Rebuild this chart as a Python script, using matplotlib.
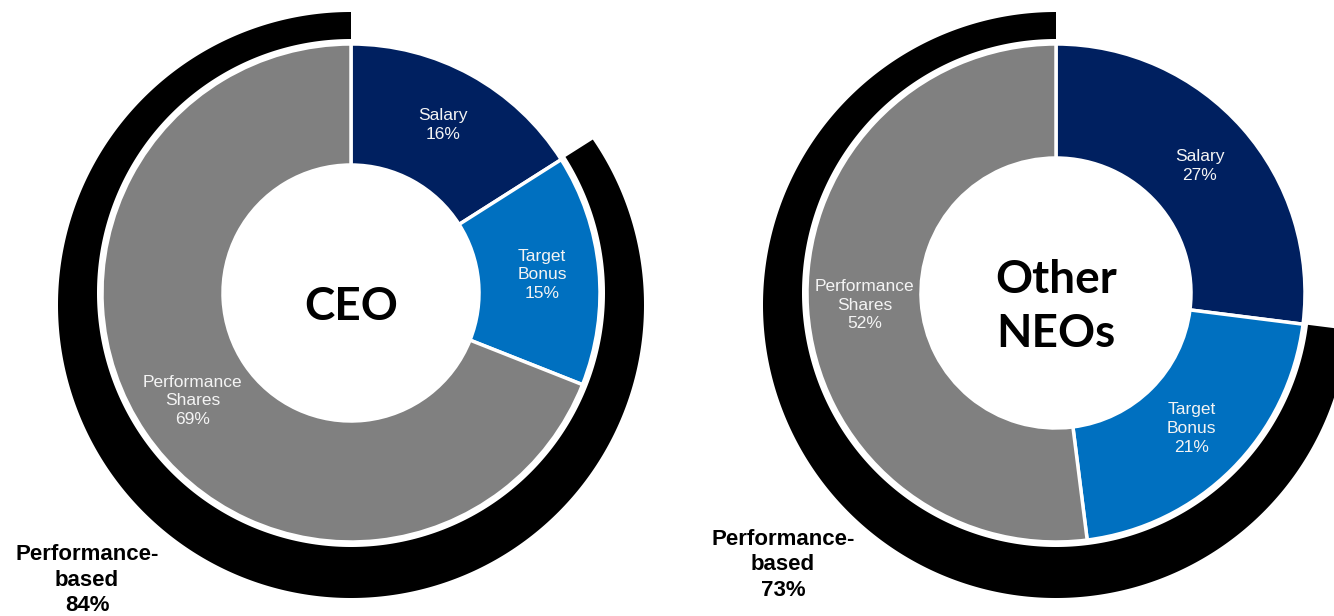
import numpy as np
import matplotlib.pyplot as plt
from matplotlib.patches import Polygon

# compensation mix (percent of target pay)
components = ['Salary', 'Target\nBonus', 'Performance\nShares']
ceo_mix = [16, 15, 69]
neo_mix = [27, 21, 52]
ceo_perf_based = 84
neo_perf_based = 73
colors = ['#002060', '#0070C0', '#808080']

W, H = 1334, 616
fig = plt.figure(figsize=(W / 100, H / 100), dpi=100)
ax = fig.add_axes([0, 0, 1, 1])


def ring_arc(ax, center, r_in, frac, drop, r_out):
    # black arc for the performance-based share, drawn from 12 o'clock
    # counter-clockwise; its outer edge is a circle shifted downwards
    cx, cy = center
    theta = np.radians(np.linspace(90, 90 + frac * 360, 400))
    u = np.stack([np.cos(theta), np.sin(theta)], axis=1)
    d = np.array([0.0, -drop])
    ud = u @ d
    t = ud + np.sqrt(ud ** 2 - d @ d + r_out ** 2)
    outer = np.column_stack([cx + t * u[:, 0], cy + t * u[:, 1]])
    inner = np.column_stack([cx + r_in * u[::-1, 0], cy + r_in * u[::-1, 1]])
    ax.add_patch(Polygon(np.vstack([outer, inner]), closed=True,
                         facecolor='black', edgecolor='none'))


def donut(ax, values, perf, center, r_hole, title, note_xy):
    R = 249
    ring_arc(ax, center, R + 5, perf / 100, 12, 293)
    wedges, texts = ax.pie(values, colors=colors, radius=R, center=center,
                           startangle=90, counterclock=False, frame=True,
                           labels=[f'{c}\n{v}%' for c, v in zip(components, values)],
                           labeldistance=0.77,
                           wedgeprops=dict(width=R - r_hole, edgecolor='white', linewidth=2.5),
                           textprops=dict(color='#f4f4f4', fontsize=12.5,
                                          family='Liberation Sans'))
    for t in texts:
        t.set_horizontalalignment('center')
        t.set_verticalalignment('center')
        t.set_linespacing(1.3)
    ax.text(center[0], center[1] - 14, title, ha='center', va='center',
            fontsize=33, fontweight='bold', family='Lato', linespacing=1.35)
    ax.text(note_xy[0], note_xy[1], f'Performance-\nbased\n{perf}%', ha='center', va='center',
            fontsize=16, fontweight='bold', family='Liberation Sans', linespacing=1.3)


donut(ax, ceo_mix, ceo_perf_based, (351, 323), 128, 'CEO', (87, 36))
donut(ax, neo_mix, neo_perf_based, (1056, 323), 135, 'Other\nNEOs', (783, 51))

ax.set_xlim(0, W)
ax.set_ylim(0, H)
ax.set_aspect('equal')
ax.axis('off')

fig.savefig('out.png', dpi=100)
